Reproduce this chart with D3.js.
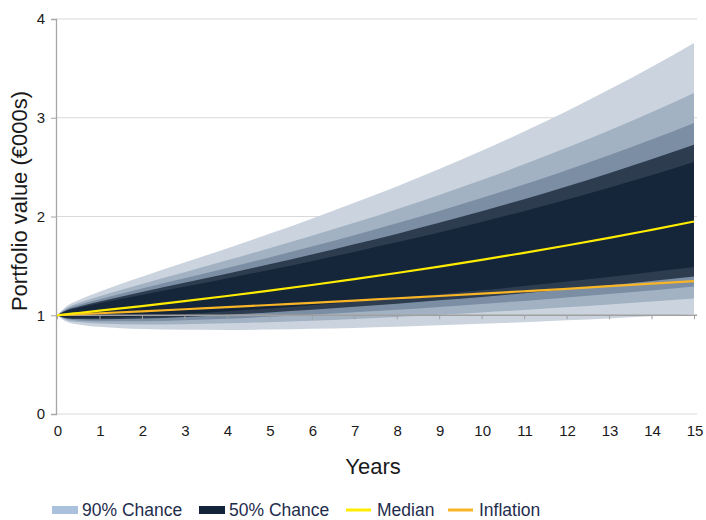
<!DOCTYPE html>
<html>
<head>
<meta charset="utf-8">
<script src="https://cdn.jsdelivr.net/npm/d3@7"></script>
<style>
  html, body { margin: 0; padding: 0; background: #fff; }
  svg { display: block; font-family: "Liberation Sans", Arial, sans-serif; }
</style>
</head>
<body>
<svg id="chart" width="706" height="520"></svg>
<script>
// Projection horizon (years) and percentile paths of portfolio value (€000s)
const years = [0, 0.25, 0.5, 1, 2, 3, 4, 5, 6, 7, 8, 9, 10, 11, 12, 13, 14, 15];
const p5  = [1, 0.929, 0.907, 0.883, 0.860, 0.852, 0.851, 0.855, 0.863, 0.872, 0.884, 0.898, 0.913, 0.930, 0.949, 0.968, 0.989, 1.011];
const p10 = [1, 0.947, 0.931, 0.916, 0.907, 0.909, 0.918, 0.930, 0.945, 0.963, 0.983, 1.005, 1.028, 1.053, 1.080, 1.108, 1.138, 1.169];
const p15 = [1, 0.959, 0.948, 0.940, 0.940, 0.950, 0.965, 0.984, 1.006, 1.030, 1.056, 1.084, 1.114, 1.145, 1.179, 1.214, 1.251, 1.290];
const p20 = [1, 0.968, 0.962, 0.959, 0.967, 0.983, 1.005, 1.029, 1.056, 1.086, 1.117, 1.151, 1.186, 1.224, 1.263, 1.305, 1.348, 1.393];
const p25 = [1, 0.977, 0.974, 0.975, 0.991, 1.013, 1.040, 1.069, 1.102, 1.136, 1.173, 1.212, 1.253, 1.296, 1.341, 1.388, 1.438, 1.489];
const median = [1, 1.011, 1.023, 1.046, 1.093, 1.143, 1.195, 1.249, 1.306, 1.366, 1.428, 1.493, 1.561, 1.632, 1.706, 1.783, 1.865, 1.949];
const p75 = [1, 1.047, 1.074, 1.121, 1.206, 1.289, 1.373, 1.459, 1.548, 1.641, 1.738, 1.839, 1.944, 2.054, 2.170, 2.291, 2.418, 2.552];
const p80 = [1, 1.056, 1.087, 1.140, 1.236, 1.328, 1.421, 1.517, 1.615, 1.718, 1.824, 1.936, 2.053, 2.175, 2.303, 2.438, 2.579, 2.727];
const p85 = [1, 1.067, 1.103, 1.163, 1.271, 1.375, 1.479, 1.586, 1.696, 1.811, 1.931, 2.056, 2.187, 2.324, 2.468, 2.620, 2.779, 2.947];
const p90 = [1, 1.080, 1.123, 1.193, 1.317, 1.436, 1.556, 1.678, 1.805, 1.936, 2.074, 2.218, 2.369, 2.528, 2.695, 2.870, 3.055, 3.250];
const p95 = [1, 1.100, 1.153, 1.239, 1.389, 1.533, 1.677, 1.825, 1.978, 2.138, 2.305, 2.481, 2.667, 2.861, 3.067, 3.285, 3.514, 3.757];
const inflation = [1, 1.005, 1.010, 1.020, 1.040, 1.061, 1.082, 1.104, 1.126, 1.149, 1.172, 1.195, 1.219, 1.243, 1.268, 1.294, 1.320, 1.346];

const xTicks = d3.range(0, 16);
const yTicks = [0, 1, 2, 3, 4];

// Fan bands, outermost first
const bands = [
  { lo: p5,  hi: p95, fill: "#cbd4de" },
  { lo: p10, hi: p90, fill: "#a2b2c3" },
  { lo: p15, hi: p85, fill: "#7b8ea4" },
  { lo: p20, hi: p80, fill: "#2d3c4f" },
  { lo: p25, hi: p75, fill: "#15253a" }
];

const legendItems = [
  { label: "90% Chance", type: "box",  color: "#a9c1dd" },
  { label: "50% Chance", type: "box",  color: "#13233a" },
  { label: "Median",     type: "line", color: "#ffec00" },
  { label: "Inflation",  type: "line", color: "#f8b526" }
];

const svg = d3.select("#chart");
const x = d3.scaleLinear().domain([0, 15]).range([57, 694]);
const y = d3.scaleLinear().domain([0, 4]).range([414, 19]);

// Horizontal gridlines
svg.append("g").selectAll("line")
  .data(yTicks.filter(v => v !== 1))
  .join("line")
  .attr("x1", 56).attr("x2", 697)
  .attr("y1", d => y(d)).attr("y2", d => y(d))
  .attr("stroke", "#d9d9d9").attr("stroke-width", 1.2);

// Bands
const idx = d3.range(years.length);
svg.append("g").selectAll("path")
  .data(bands)
  .join("path")
  .attr("d", b => d3.area()
      .x(i => x(years[i]))
      .y0(i => y(b.lo[i]))
      .y1(i => y(b.hi[i]))
      .curve(d3.curveMonotoneX)(idx))
  .attr("fill", b => b.fill);

// Y axis
const yAxis = svg.append("g")
  .attr("transform", `translate(56,0)`)
  .call(d3.axisLeft(y).tickValues(yTicks).tickFormat(d3.format("d")).tickSize(5).tickPadding(6));
yAxis.select(".domain").attr("stroke", "#a6a6a6").attr("stroke-width", 1.3);
yAxis.selectAll(".tick line").attr("stroke", "#a6a6a6");
yAxis.selectAll(".tick text")
  .attr("fill", "#1a1a1a").style("font-size", "15px")
  .style("font-family", "'Liberation Sans', Arial, sans-serif");

// Category axis crossing at value 1
const xAxis = svg.append("g")
  .attr("transform", `translate(0,${y(1)})`)
  .call(d3.axisBottom(x).tickValues(xTicks).tickSize(4).tickFormat(""));
xAxis.select(".domain").attr("stroke", "#a0a0a0").attr("stroke-width", 1.6)
  .attr("d", `M56,0H697`);
xAxis.selectAll(".tick line").attr("stroke", "#a0a0a0").attr("stroke-width", 1);

// Year labels below the plot
svg.append("g").selectAll("text")
  .data(xTicks)
  .join("text")
  .attr("x", d => x(d) + 1)
  .attr("y", 436)
  .attr("text-anchor", "middle")
  .attr("fill", "#1a1a1a")
  .style("font-size", "15px")
  .text(d => d);

// Median and inflation lines
const line = arr => d3.line()
  .x(i => x(years[i]))
  .y(i => y(arr[i]))
  .curve(d3.curveMonotoneX)(idx);

svg.append("path").attr("d", line(inflation))
  .attr("fill", "none").attr("stroke", "#f8b526").attr("stroke-width", 2.2);
svg.append("path").attr("d", line(median))
  .attr("fill", "none").attr("stroke", "#ffec00").attr("stroke-width", 2.2);

// Axis titles
svg.append("text")
  .attr("x", 373).attr("y", 474)
  .attr("text-anchor", "middle")
  .attr("fill", "#1a1a1a")
  .style("font-size", "22px")
  .text("Years");

svg.append("text")
  .attr("transform", "translate(27,201) rotate(-90)")
  .attr("text-anchor", "middle")
  .attr("fill", "#1a1a1a")
  .style("font-size", "22px")
  .text("Portfolio value (€000s)");

// Legend
const legendX = [52, 199, 346, 448];
const lg = svg.append("g").selectAll("g")
  .data(legendItems)
  .join("g")
  .attr("transform", (d, i) => `translate(${legendX[i]},510)`);
lg.filter(d => d.type === "box").append("rect")
  .attr("x", 0).attr("y", -4).attr("width", 26).attr("height", 8)
  .attr("fill", d => d.color);
lg.filter(d => d.type === "line").append("line")
  .attr("x1", 0).attr("x2", 25).attr("y1", 0).attr("y2", 0)
  .attr("stroke", d => d.color).attr("stroke-width", 3);
lg.append("text")
  .attr("x", (d, i) => i < 2 ? 30 : 31)
  .attr("y", 6)
  .attr("fill", "#1f2d4d")
  .style("font-size", "17.5px")
  .text(d => d.label);
</script>
</body>
</html>
